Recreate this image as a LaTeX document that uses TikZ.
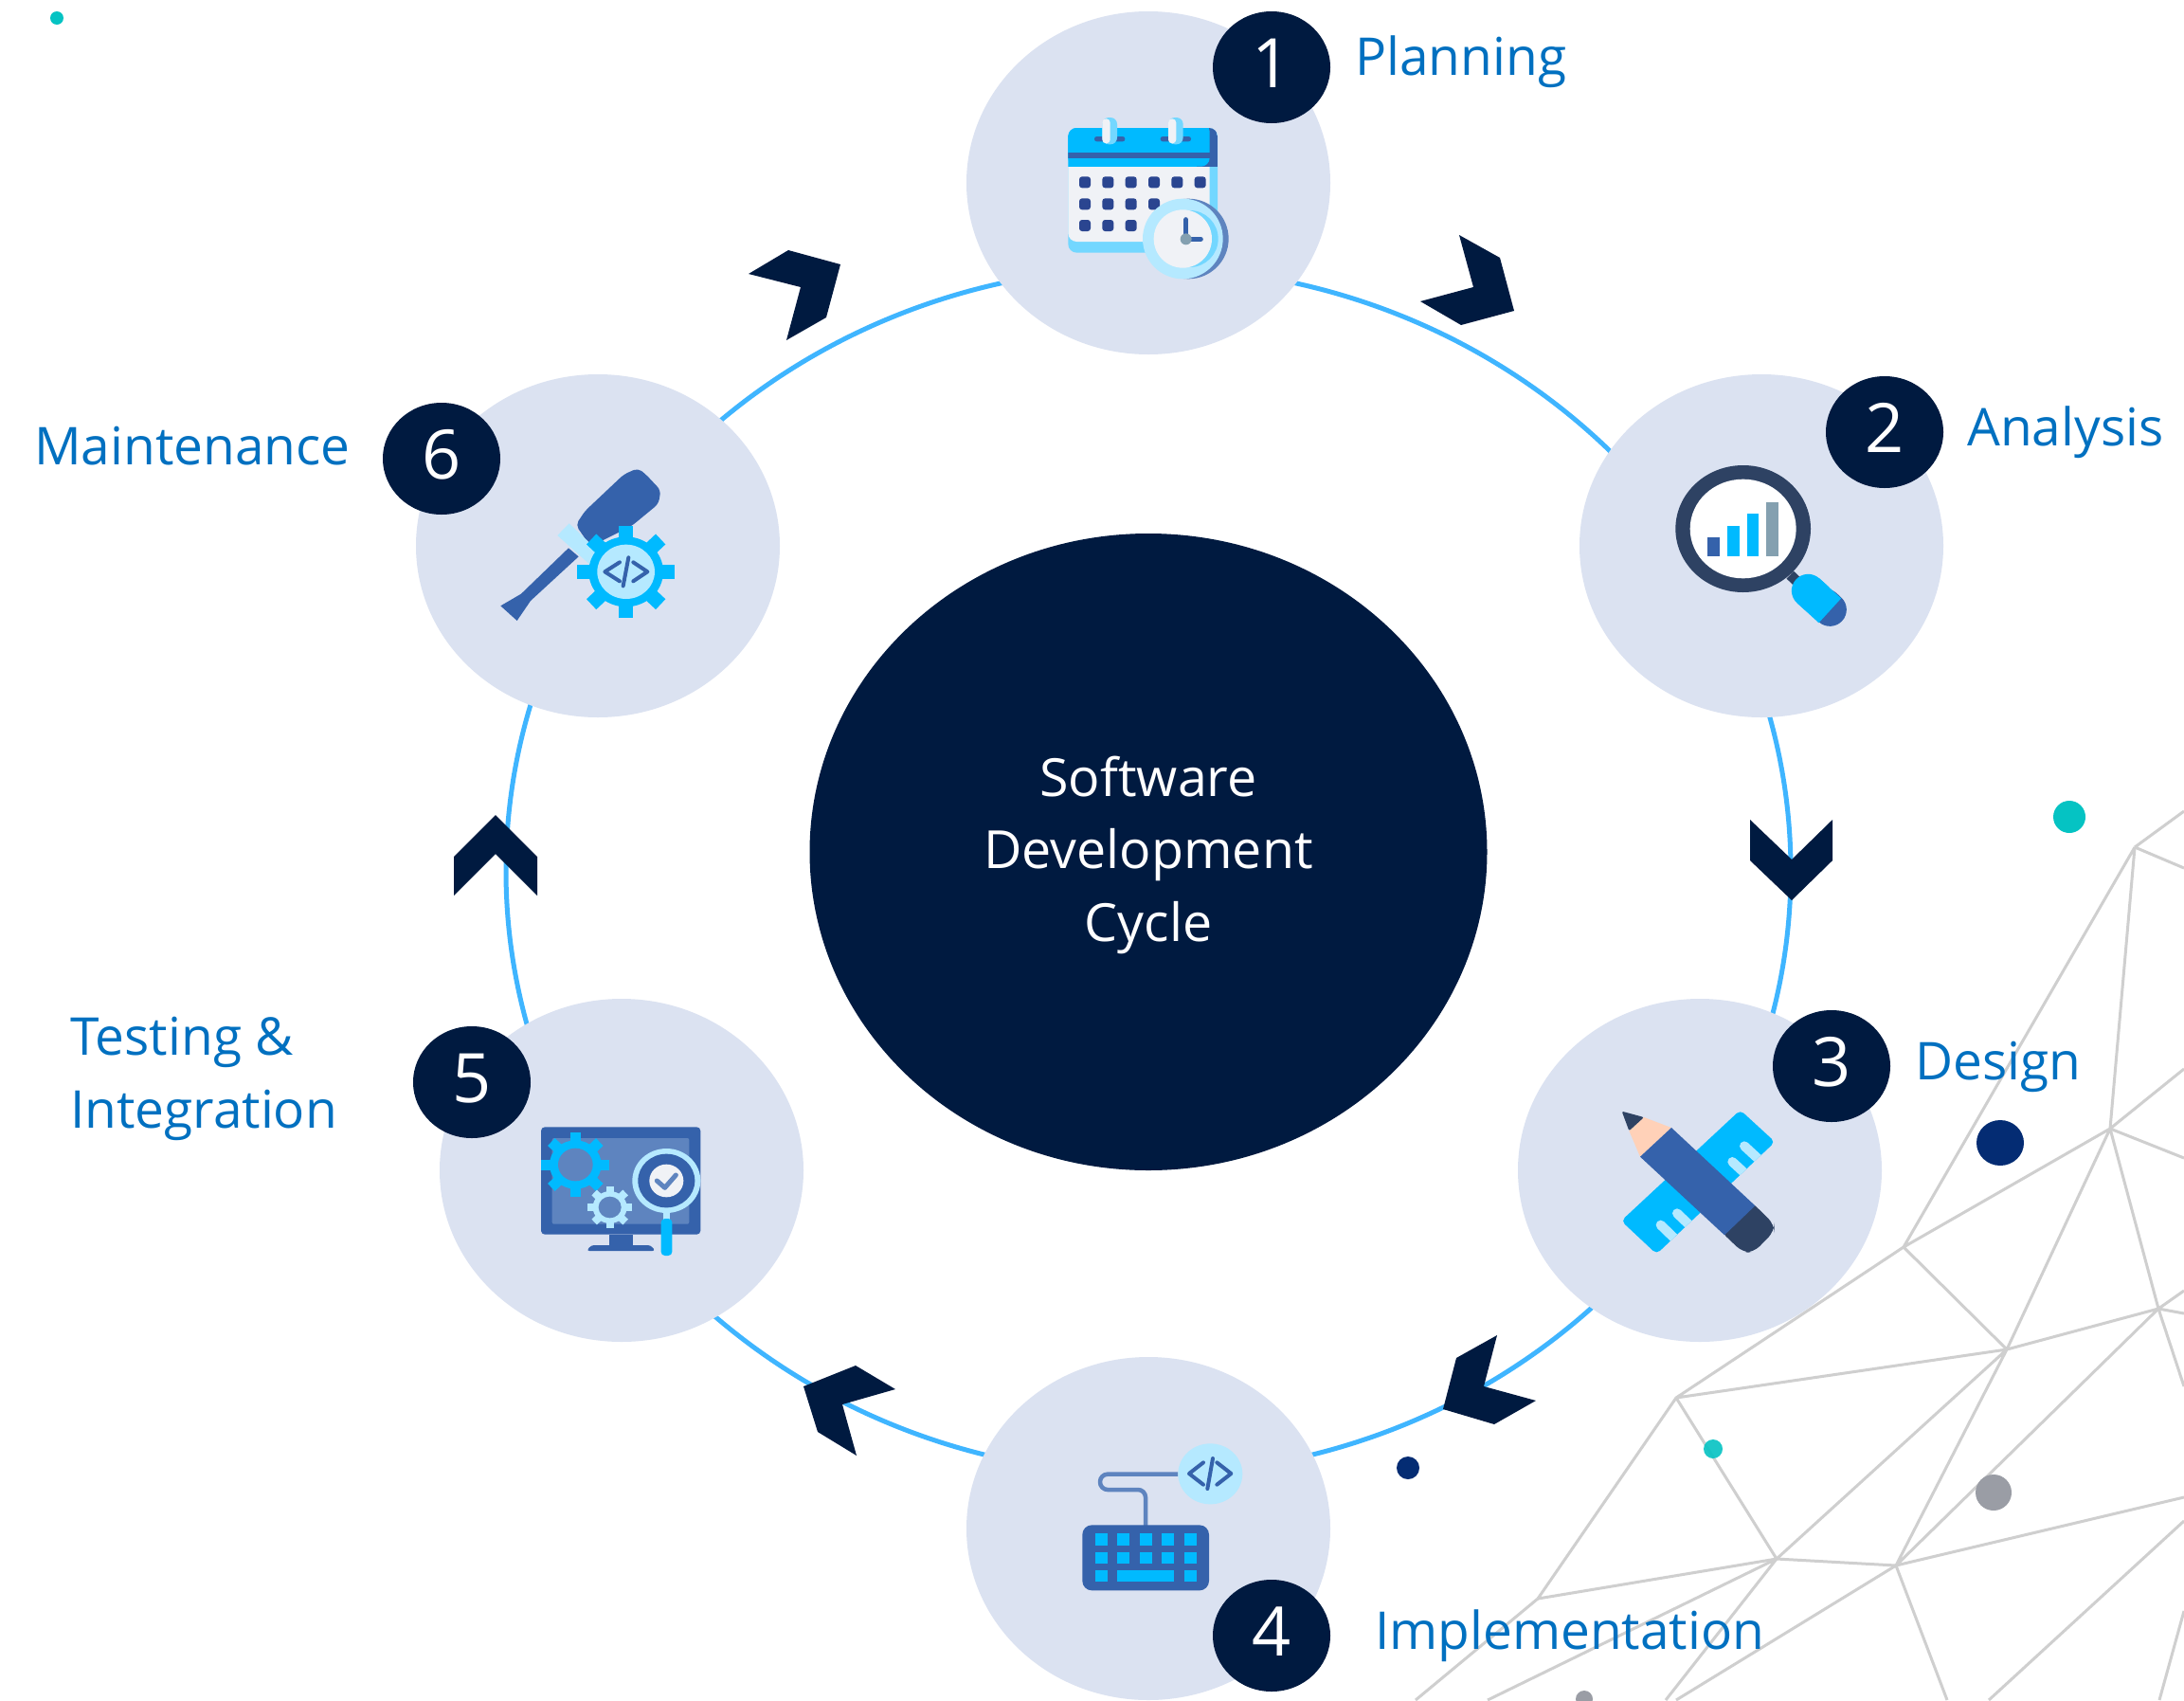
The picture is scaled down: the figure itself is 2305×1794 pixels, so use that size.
\documentclass[tikz,border=0pt]{standalone}
\usepackage{fontspec}
\setmainfont{Open Sans}
\usetikzlibrary{shapes.geometric}
\definecolor{navy}{HTML}{001A40}
\definecolor{lav}{HTML}{DBE2F1}
\definecolor{ringc}{HTML}{3FB5FF}
\definecolor{lbl}{HTML}{0070C0}
\definecolor{meshc}{HTML}{CFCFCF}
\definecolor{bright}{HTML}{00BAFF}
\definecolor{sky}{HTML}{73D7FF}
\definecolor{pale}{HTML}{B5E9FF}
\definecolor{steel}{HTML}{3562AB}
\definecolor{mid}{HTML}{5E84BF}
\definecolor{ink}{HTML}{2E4263}
\definecolor{deep}{HTML}{2A4590}
\definecolor{offw}{HTML}{F0F2F6}
\definecolor{slate}{HTML}{84A0B0}
\definecolor{peach}{HTML}{FFD1B8}
\definecolor{teal}{HTML}{05C3C3}
\definecolor{dotnavy}{HTML}{042C73}
\definecolor{dotgrey}{HTML}{9A9DA5}
\tikzset{
  stage/.style={ellipse,fill=lav,minimum width=384pt,minimum height=362pt,inner sep=0pt},
  badge/.style={ellipse,fill=navy,text=white,minimum width=124pt,minimum height=118pt,inner sep=0pt,font=\fontsize{72}{80}\selectfont,text depth=9pt,text height=52pt},
  steplabel/.style={anchor=base west,text=lbl,inner sep=0pt,font=\fontsize{55}{60}\selectfont},
  chev/.style={fill=navy},
  meshline/.style={draw=meshc,line width=3pt,line join=round},
  codeline/.style={draw=steel,line width=4pt,line cap=round,line join=round}
}
% gear: cx, cy, body radius, tip radius, tooth width, colour
\newcommand{\mygear}[6]{%
  \begin{scope}[shift={(#1,#2)},yscale=0.94]
    \fill[#6] (0,0) circle[radius=#3];
    \foreach \a in {0,45,...,315}{\draw[#6,line width=#5pt] (0,0) -- (\a:#4);}
  \end{scope}}
\begin{document}
\begin{tikzpicture}[x=1pt,y=-1pt]
\useasboundingbox (0,0) rectangle (2305,1794);
\fill[white] (0,0) rectangle (2305,1794);
% mesh
\coordinate (p1) at (2253,894);
\coordinate (p2) at (2227,1191);
\coordinate (p3) at (2009,1316);
\coordinate (p4) at (2118,1424);
\coordinate (p5) at (2278,1381);
\coordinate (p6) at (1769,1475);
\coordinate (p7) at (1875,1645);
\coordinate (p8) at (2001,1652);
\coordinate (p9) at (1623,1687);
\draw[meshline] (p1)--(p2) (p1)--(p3) (p3)--(p2) (p3)--(p4) (p2)--(p4) (p3)--(p6)
  (p6)--(p4) (p4)--(p5) (p2)--(p5) (p6)--(p7) (p6)--(p9) (p9)--(p7) (p7)--(p8)
  (p7)--(p4) (p8)--(p4) (p8)--(p5);
\draw[meshline] (p1)--(2305,856) (p1)--(2305,916) (p2)--(2305,1128) (p2)--(2305,1222)
  (p5)--(2305,1362) (p5)--(2305,1386) (p5)--(2305,1463) (p8)--(2305,1580)
  (p9)--(1494,1794) (p7)--(1570,1794) (p7)--(1758,1794) (p8)--(1769,1794) (p8)--(2055,1794)
  (2099,1794)--(2305,1605) (2279,1794)--(2305,1700);
% dots
\fill[teal] (60,19) circle[radius=7];
\fill[teal] (2184,862) ellipse[x radius=17,y radius=17];
\fill[dotnavy] (2111,1206) ellipse[x radius=25,y radius=24];
\fill[dotnavy] (1486,1549) circle[radius=12];
\fill[teal,opacity=.9] (1808,1529) circle[radius=10];
\fill[dotgrey] (2104,1575) circle[radius=19];
\fill[dotgrey] (1672,1793) circle[radius=9];
% ring
\draw[ringc,line width=5pt] (1212,919) ellipse[x radius=678,y radius=637];
% chevrons
\fill[chev] (790,289)--(832,264)--(887,279)--(872,335)--(830,359)--(845,303)--cycle;
\fill[chev] (1540,248)--(1583,272)--(1598,328)--(1542,343)--(1499,318)--(1555,303)--cycle;
\fill[chev] (1847,865)--(1891,907)--(1934,865)--(1934,908)--(1891,950)--(1847,908)--cycle;
\fill[chev] (1580,1409)--(1566,1463)--(1621,1478)--(1577,1503)--(1523,1487)--(1537,1433)--cycle;
\fill[chev] (848,1463)--(903,1441)--(945,1466)--(889,1482)--(904,1536)--(863,1511)--cycle;
\fill[chev] (523,860)--(567,904)--(567,945)--(523,901)--(479,945)--(479,904)--cycle;
% centre
\node[ellipse,fill=navy,minimum width=715pt,minimum height=672pt,inner sep=0pt] (core) at (1212,899) {};
\node[text=white,inner sep=0pt,align=center,font=\fontsize{55.5}{76.5}\selectfont] (coretext) at (1212,902) {Software\\Development\\Cycle};
% stage discs
\node[stage] (s1) at (1212,193) {};
\node[stage] (s2) at (1859,576) {};
\node[stage] (s3) at (1794,1235) {};
\node[stage] (s4) at (1212,1613) {};
\node[stage] (s5) at (656,1235) {};
\node[stage] (s6) at (631,576) {};
% badges
\node[badge] (b1) at (1342,71) {1};
\node[badge] (b2) at (1989,456) {2};
\node[badge] (b3) at (1933,1125) {3};
\node[badge] (b4) at (1342,1726) {4};
\node[badge] (b5) at (498,1142) {5};
\node[badge] (b6) at (466,484) {6};
% labels
\node[steplabel] (l1) at (1430,79) {Planning};
\node[steplabel] (l2) at (2076,470) {Analysis};
\node[steplabel] (l3) at (2021,1139) {Design};
\node[steplabel] (l4) at (1451,1740) {Implementation};
\node[steplabel] (l5a) at (74,1113) {Testing \&};
\node[steplabel] (l5b) at (74,1190) {Integration};
\node[steplabel] (l6) at (36,490) {Maintenance};
% icon 1: calendar
\begin{scope}[shift={(1050,90)},x=0.33333pt,y=-0.33333pt]
  \fill[sky,rounded corners=9pt] (232,135) rectangle (705,530);
  \fill[offw,rounded corners=9pt] (232,200) rectangle (680,495);
  \begin{scope}
    \clip[rounded corners=9pt] (232,135) rectangle (705,530);
    \fill[steel] (640,135) rectangle (705,257);
    \fill[bright,rounded corners=9pt] (232,120) -- (680,120) -- (680,257) -- (232,257) -- cycle;
    \fill[bright] (232,135) rectangle (640,257);
    \fill[steel] (232,213) rectangle (680,230);
  \end{scope}
  \fill[steel,rounded corners=2.5pt] (315,162) rectangle (412,178);
  \fill[steel,rounded corners=2.5pt] (524,162) rectangle (621,178);
  \foreach \x in {340,549}{
    \fill[sky,rounded corners=7pt] (\x,102) rectangle ++(47,85);
    \fill[offw,rounded corners=4pt] (\x,106) rectangle ++(25,78);
  }
  \foreach \x in {285,358,431,504,577,650}{\fill[deep,rounded corners=3pt] (\x-18,289) rectangle (\x+18,325);}
  \foreach \x in {285,358,431,504}{\fill[deep,rounded corners=3pt] (\x-18,358) rectangle (\x+18,394);}
  \foreach \x in {285,358,431}{\fill[deep,rounded corners=3pt] (\x-18,426) rectangle (\x+18,462);}
  \fill[mid] (613,486) circle[radius=127];
  \fill[pale] (595,486) circle[radius=127];
  \fill[sky] (617,486) circle[radius=90];
  \fill[offw] (595,486) circle[radius=92];
  \draw[steel,line width=5pt,line cap=round] (605,425)--(605,487)--(652,487);
  \fill[slate] (605,487) circle[radius=18];
\end{scope}
% icon 2: magnifier with bars
\begin{scope}[shift={(1730,460)},x=0.33333pt,y=-0.33333pt]
  \draw[ink,line width=11pt] (478,440)--(520,480);
  \fill[ink] (329,294) ellipse[x radius=214,y radius=201];
  \fill[white] (329,294) ellipse[x radius=168,y radius=157];
  \fill[steel] (217,321) rectangle (255,380);
  \fill[bright] (279,284) rectangle (317,380);
  \fill[bright] (341,246) rectangle (379,380);
  \fill[slate] (403,209) rectangle (441,380);
  \draw[steel,line width=35pt,line cap=round] (590,537)--(604,550);
  \draw[bright,line width=35pt,line cap=round] (535,490)--(560,512);
  \draw[bright,line width=35pt] (535,490)--(604,553);
\end{scope}
% icon 3: pencil and ruler
\begin{scope}[shift={(1680,1140)},x=0.33333pt,y=-0.33333pt]
  \fill[bright,rounded corners=5pt] (470,94)--(580,195)--(205,550)--(93,445)--cycle;
  \begin{scope}
    \clip (470,94)--(580,195)--(205,550)--(93,445)--cycle;
    \draw[pale,line width=10pt,line cap=round] (483,208)--(550,270);
    \draw[pale,line width=10pt,line cap=round] (445,258)--(510,318);
    \draw[pale,line width=10pt,line cap=round] (218,458)--(280,518);
    \draw[pale,line width=10pt,line cap=round] (270,421)--(335,483);
  \end{scope}
  \fill[peach] (252,150)--(153,242)--(118,160)--(165,117)--cycle;
  \fill[ink,rounded corners=2pt] (165,117)--(118,160)--(95,98)--cycle;
  \fill[ink,rounded corners=9pt] (500,380)--(578,456)--(578,478)--(512,545)--(478,545)--(405,475)--cycle;
  \fill[steel] (252,150)--(517,397)--(420,490)--(153,242)--cycle;
\end{scope}
% icon 4: keyboard
\begin{scope}[shift={(1110,1500)},x=0.33333pt,y=-0.33333pt]
  \draw[mid,line width=4.5pt,rounded corners=8pt] (400,167)--(153,167)--(153,216)--(297,216)--(297,335);
  \fill[pale] (502,166) ellipse[x radius=102,y radius=96];
  \draw[codeline] (480,130)--(435,165)--(480,200) (510,117)--(493,213) (523,130)--(568,165)--(523,200);
  \fill[steel,rounded corners=10pt] (97,328) rectangle (498,535);
  \foreach \x in {138,208,279,349,419}{
    \fill[bright] (\x,355) rectangle ++(39,37);
    \fill[bright] (\x,413) rectangle ++(39,37);
  }
  \fill[bright] (138,471) rectangle ++(39,37);
  \fill[bright] (208,471) rectangle (388,508);
  \fill[bright] (419,471) rectangle ++(39,37);
\end{scope}
% icon 5: monitor
\begin{scope}[shift={(550,1170)},x=0.33333pt,y=-0.33333pt]
  \fill[steel,rounded corners=4pt] (63,58) rectangle (568,398);
  \fill[mid,rounded corners=2pt] (98,93) rectangle (532,365);
  \fill[steel] (280,398) rectangle (353,432);
  \fill[steel,rounded corners=3pt] (207,450) -- (222,432) -- (410,432) -- (425,450) -- cycle;
  \mygear{172}{177}{82}{108}{11}{bright}
  \fill[mid] (172,177) ellipse[x radius=55,y radius=52];
  \mygear{281}{312}{54}{70}{8}{pale}
  \fill[mid] (281,312) ellipse[x radius=36,y radius=34];
  \fill[pale] (450,325) rectangle (470,355);
  \fill[bright,rounded corners=4pt] (443,348) rectangle (478,465);
  \fill[pale] (460,228) ellipse[x radius=108,y radius=102];
  \fill[steel] (460,228) ellipse[x radius=90,y radius=85];
  \fill[offw] (460,228) ellipse[x radius=54,y radius=52];
  \draw[mid,line width=5pt,line cap=round,line join=round] (430,228)--(455,250)--(490,210);
\end{scope}
% icon 6: screwdriver and gear
\begin{scope}[shift={(510,480)},x=0.33333pt,y=-0.33333pt]
  \fill[steel] (270,295)--(302,322)--(150,462)--(107,525)--(55,478)--(120,440)--cycle;
  \fill[steel,rounded corners=5pt] (322,178)--(445,62)--(490,42)--(515,62)--(562,112)--(555,155)--(470,225)--(340,290)--(293,222)--cycle;
  \fill[pale] (272,217)--(370,310)--(335,345)--(235,255)--cycle;
  \mygear{452}{370}{118}{155}{15}{bright}
  \fill[pale] (452,370) ellipse[x radius=91,y radius=86];
  \draw[codeline] (432,340)--(385,370)--(432,400) (460,325)--(443,415) (475,340)--(520,370)--(475,400);
\end{scope}
\end{tikzpicture}
\end{document}
